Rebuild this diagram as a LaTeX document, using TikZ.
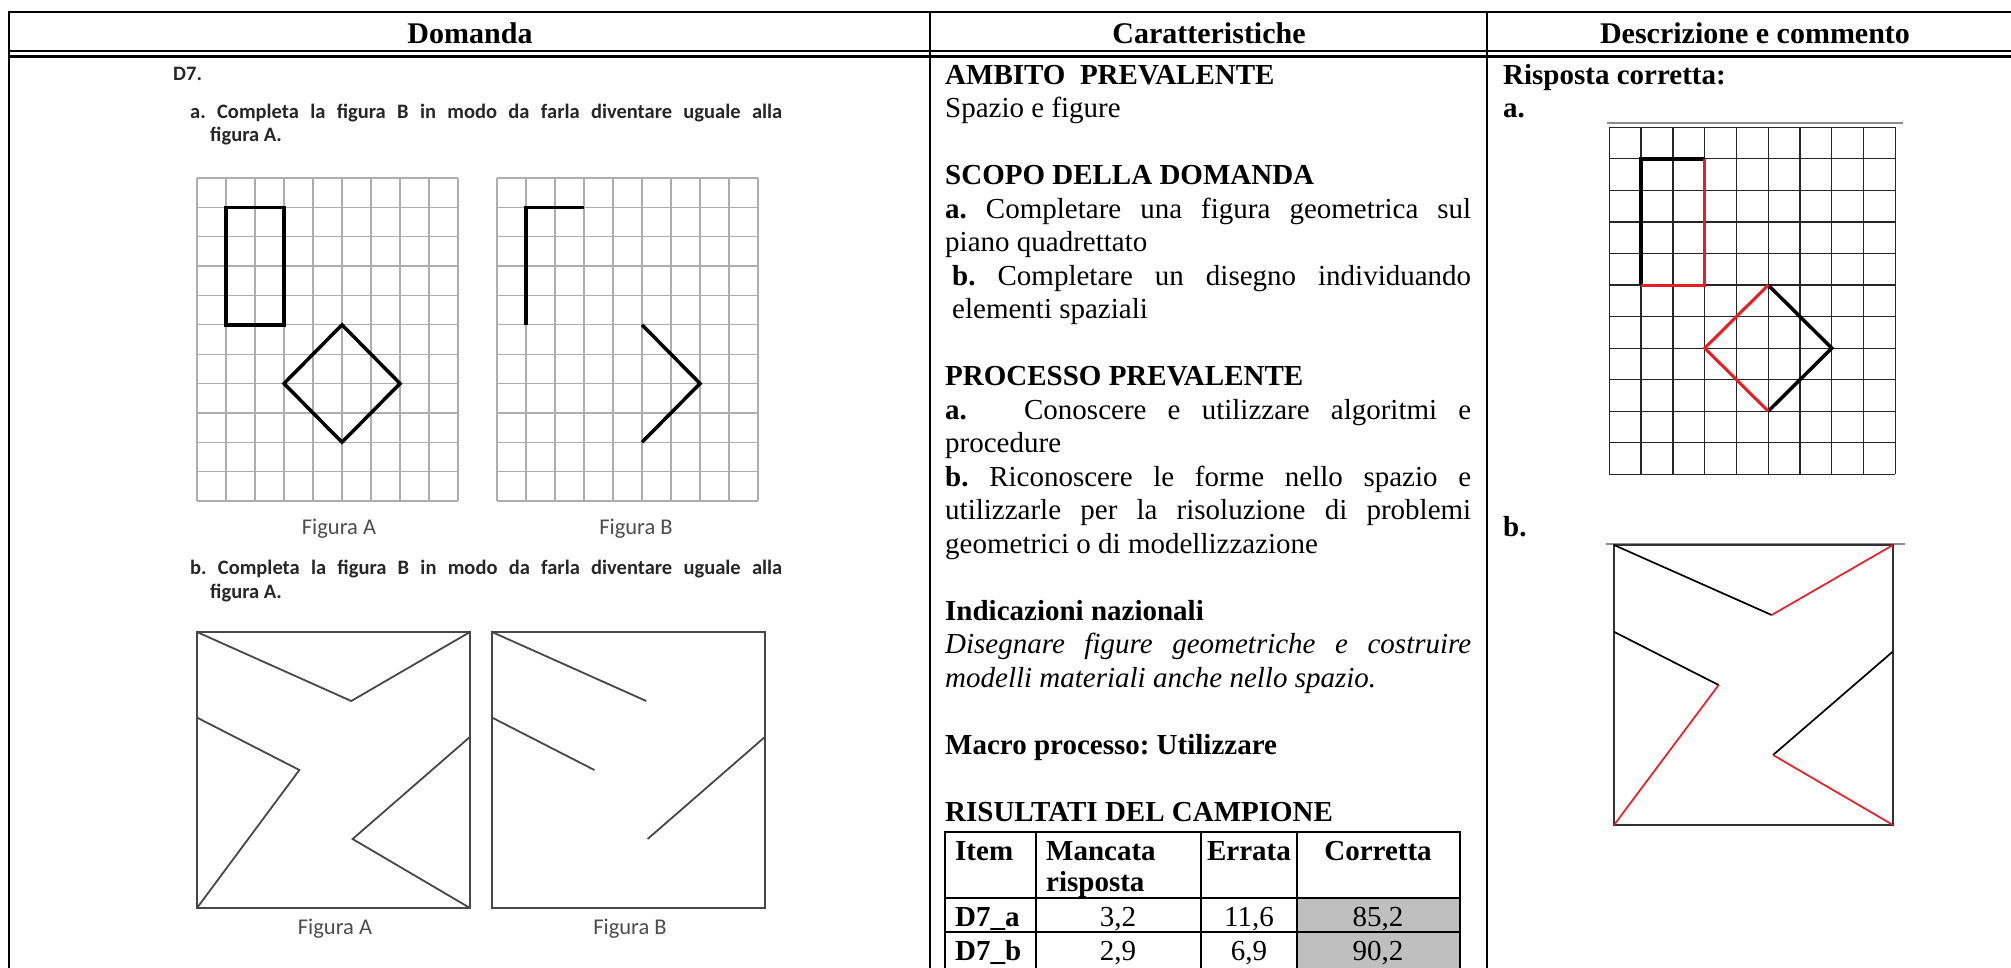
\documentclass[tikz,border=0pt]{standalone}
\usepackage{fontspec}
\setmainfont{Liberation Serif}
\newfontfamily\calibri{Carlito}
\definecolor{ansred}{RGB}{236,28,36}
\newcommand{\jst}[2][526pt]{\makebox[#1][s]{#2}}
\frenchspacing
\begin{document}
\begin{tikzpicture}[x=1pt,y=-1pt,
  frame/.style={line width=2.6pt},
  sep/.style={line width=2pt},
  qgrid/.style={black!32,line width=1.3pt},
  agrid/.style={black!85,line width=1.25pt},
  figln/.style={line width=3.5pt},
  sqr/.style={black!72,line width=1.8pt},
  tab/.style={line width=2.4pt},
  head/.style={anchor=base,inner sep=0pt,font=\fontsize{30}{34}\selectfont\bfseries},
  body/.style={anchor=base west,inner sep=0pt,font=\fontsize{29}{33.5}\selectfont},
  cell/.style={anchor=base,inner sep=0pt,font=\fontsize{29}{33.5}\selectfont},
  qtxt/.style={anchor=base west,inner sep=0pt,text=black!85,font=\fontsize{20.5}{22}\selectfont\calibri\bfseries},
  figcap/.style={anchor=base,inner sep=0pt,text=black!70,font=\fontsize{22.5}{26}\selectfont\calibri}]
\useasboundingbox (0,0) rectangle (2011,967);
% table frame
\draw[frame] (9,12) -- (2011,12);
\draw[frame] (9,51) -- (2011,51);
\draw[frame] (9,56.5) -- (2011,56.5);
\draw[frame] (9,11) -- (9,975);
\draw[sep] (930,12) -- (930,975);
\draw[sep] (1487,12) -- (1487,975);
\node[head] (hdom) at (470,43) {Domanda};
\node[head] (hcar) at (1209,43) {Caratteristiche};
\node[head] (hdes) at (1755,43) {Descrizione e commento};
% column 1: question
\node[qtxt] (d7) at (173,80) {D7.};
\node[qtxt] (qa1) at (190,118) {\jst[592pt]{a. Completa la figura B in modo da farla diventare uguale alla}};
\node[qtxt] (qa2) at (210,141) {figura A.};
\node[qtxt] (qb1) at (190,574) {\jst[592pt]{b. Completa la figura B in modo da farla diventare uguale alla}};
\node[qtxt] (qb2) at (210,598) {figura A.};
\begin{scope}[shift={(197,178)},x=29pt,y=-29.36pt]%figura A
\foreach \i in {0,...,9} \draw[qgrid] (\i,0) -- (\i,11);
\foreach \j in {0,...,11} \draw[qgrid] (0,\j) -- (9,\j);
\draw[figln] (1,1) rectangle (3,5);
\draw[figln] (5,5) -- (7,7) -- (5,9) -- (3,7) -- cycle;
\end{scope}
\begin{scope}[shift={(497,178)},x=29pt,y=-29.36pt]%figura B
\foreach \i in {0,...,9} \draw[qgrid] (\i,0) -- (\i,11);
\foreach \j in {0,...,11} \draw[qgrid] (0,\j) -- (9,\j);
\draw[figln] (1,5) -- (1,1) -- (3,1);
\draw[figln] (5,5) -- (7,7) -- (5,9);
\end{scope}
\node[figcap] (capa1) at (339,534) {Figura A};
\node[figcap] (capb1) at (636,534) {Figura B};
\begin{scope}[shift={(197,632)},x=273pt,y=-276pt]%figura A
\draw[sqr] (0,0) rectangle (1,1);
\draw[sqr] (0,0) -- (0.565,0.25) -- (1,0);
\draw[sqr] (0,0.31) -- (0.375,0.5) -- (0,1);
\draw[sqr] (1,0.38) -- (0.57,0.75) -- (1,1);
\end{scope}
\begin{scope}[shift={(492,632)},x=273pt,y=-276pt]%figura B
\draw[sqr] (0,0) rectangle (1,1);
\draw[sqr] (0,0) -- (0.565,0.25);
\draw[sqr] (0,0.31) -- (0.375,0.5);
\draw[sqr] (1,0.38) -- (0.57,0.75);
\end{scope}
\node[figcap] (capa2) at (335,934) {Figura A};
\node[figcap] (capb2) at (630,934) {Figura B};
% column 2: caratteristiche
\node[body] (c0) at (945,84) {\textbf{AMBITO\ \ PREVALENTE}};
\node[body] (c1) at (945,117.5) {Spazio e figure};
\node[body] (c3) at (945,184.5) {\textbf{SCOPO DELLA DOMANDA}};
\node[body] (c4) at (945,218) {\jst{\textbf{a.} Completare una figura geometrica sul}};
\node[body] (c5) at (945,251.5) {piano quadrettato};
\node[body] (c6) at (945,285) {\jst{\hspace*{7pt}\textbf{b.} Completare un disegno individuando}};
\node[body] (c7) at (945,318.5) {\hspace*{7pt}elementi spaziali};
\node[body] (c9) at (945,385.5) {\textbf{PROCESSO PREVALENTE}};
\node[body] (c10) at (945,419) {\jst{\textbf{a.}\hspace*{36pt} Conoscere e utilizzare algoritmi e}};
\node[body] (c11) at (945,452.5) {procedure};
\node[body] (c12) at (945,486) {\jst{\textbf{b.} Riconoscere le forme nello spazio e}};
\node[body] (c13) at (945,519.5) {\jst{utilizzarle per la risoluzione di problemi}};
\node[body] (c14) at (945,553) {geometrici o di modellizzazione};
\node[body] (c16) at (945,620) {\textbf{Indicazioni nazionali}};
\node[body] (c17) at (945,653.5) {\jst{\itshape Disegnare figure geometriche e costruire}};
\node[body] (c18) at (945,687) {\textit{modelli materiali anche nello spazio.}};
\node[body] (c20) at (945,754) {\textbf{Macro processo: Utilizzare}};
\node[body] (c22) at (945,821) {\textbf{RISULTATI DEL CAMPIONE}};
% risultati
\fill[gray!50] (1297,898) rectangle (1460,975);
\draw[tab] (945,832) -- (1460,832);
\draw[tab] (945,898) -- (1460,898);
\draw[tab] (945,932) -- (1460,932);
\foreach \x in {945,1036,1201,1297,1460} \draw[tab] (\x,831) -- (\x,975);
\node[body] (titem) at (955,860) {\textbf{Item}};
\node[body] (tman) at (1046,860) {\textbf{Mancata}};
\node[body] (tris) at (1046,891) {\textbf{risposta}};
\node[cell] (terr) at (1249,860) {\textbf{Errata}};
\node[cell] (tcor) at (1378,860) {\textbf{Corretta}};
\node[body] (ra) at (955,926) {\textbf{D7\_a}};
\node[cell] (ra1) at (1118,926) {3,2};
\node[cell] (ra2) at (1249,926) {11,6};
\node[cell] (ra3) at (1378,926) {85,2};
\node[body] (rb) at (955,960) {\textbf{D7\_b}};
\node[cell] (rb1) at (1118,960) {2,9};
\node[cell] (rb2) at (1249,960) {6,9};
\node[cell] (rb3) at (1378,960) {90,2};
% column 3: risposta
\node[body] (risp) at (1503,84) {\textbf{Risposta corretta:}};
\node[body] (ansa) at (1503,117.5) {\textbf{a.}};
\node[body] (ansb) at (1503,536) {\textbf{b.}};
\draw[black!45,line width=1.4pt] (1607,123) -- (1903,123);
\begin{scope}[shift={(1609.3,127.3)},x=31.78pt,y=-31.55pt]
\foreach \i in {0,...,9} \draw[agrid] (\i,0) -- (\i,11);
\foreach \j in {0,...,11} \draw[agrid] (0,\j) -- (9,\j);
\draw[figln] (1,5) -- (1,1) -- (3,1);
\draw[figln,ansred,line width=3pt] (3,1) -- (3,5) -- (1,5);
\draw[figln] (5,5) -- (7,7) -- (5,9);
\draw[figln,ansred,line width=3pt] (5,5) -- (3,7) -- (5,9);
\end{scope}
\draw[black!45,line width=1.4pt] (1606,544) -- (1905,544);
\begin{scope}[shift={(1614,545)},x=279pt,y=-280pt]
\draw[black!80,line width=2.2pt] (0,0) rectangle (1,1);
\draw[line width=1.7pt] (0,0) -- (0.565,0.25);
\draw[ansred,line width=1.7pt] (0.565,0.25) -- (1,0);
\draw[line width=1.7pt] (0,0.31) -- (0.375,0.5);
\draw[ansred,line width=1.7pt] (0.375,0.5) -- (0,1);
\draw[line width=1.7pt] (1,0.38) -- (0.57,0.75);
\draw[ansred,line width=1.7pt] (0.57,0.75) -- (1,1);
\end{scope}
\end{tikzpicture}
\end{document}
